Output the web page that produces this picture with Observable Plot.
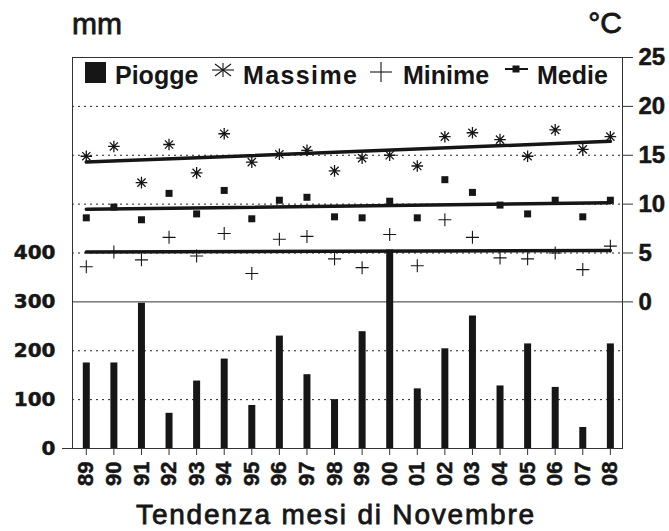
<!DOCTYPE html>
<html>
<head>
<meta charset="utf-8">
<script src="https://cdn.jsdelivr.net/npm/d3@7"></script>
<script src="https://cdn.jsdelivr.net/npm/@observablehq/plot@0.6"></script>
<style>
  html, body { margin: 0; padding: 0; background: #fff; }
  #wrap { position: relative; width: 669px; height: 531px; overflow: hidden; }
  #wrap > svg { position: absolute; left: 0; top: 0; }
  #overlay { pointer-events: none; }
  #wrap g[aria-label$="tick label"] { stroke: #161616; stroke-width: 0.5px; }
</style>
</head>
<body>
<div id="wrap"></div>
<script>
// ---- data ----
const years = [1989,1990,1991,1992,1993,1994,1995,1996,1997,1998,1999,2000,2001,2002,2003,2004,2005,2006,2007,2008];
const yearLabels = ["89","90","91","92","93","94","95","96","97","98","99","00","01","02","03","04","05","06","07","08"];
// Piogge (mm)
const piogge = [175,175,297,72,138,183,88,230,151,100,239,406,122,204,271,128,214,125,43,214];
// Temperature (°C)
const massime = [14.9,15.9,12.2,16.1,13.2,17.2,14.3,15.1,15.5,13.4,14.7,15.0,13.9,16.9,17.3,16.6,14.9,17.6,15.6,16.9];
const minime  = [3.6,5.1,4.3,6.6,4.7,7.0,2.9,6.4,6.7,4.4,3.5,6.9,3.7,8.4,6.6,4.5,4.4,5.0,3.3,5.7];
const medie   = [8.6,9.7,8.4,11.1,9.0,11.4,8.5,10.4,10.7,8.7,8.6,10.3,8.6,12.5,11.2,9.9,9.0,10.4,8.7,10.4];
// axis ticks
const mmTicks = [0,100,200,300,400];
const degTicks = [0,5,10,15,20,25];

// shared vertical axis: 0 °C sits at 300 mm, 5 °C per 100 mm
const T = t => 300 + 20 * t;
const Tinv = v => (v - 300) / 20;

const data = years.map((year, i) => ({
  year, label: yearLabels[i], rain: piogge[i],
  max: massime[i], min: minime[i], mean: medie[i]
}));

// custom symbols
const asterisk8 = {
  draw(ctx, size) {
    const r = Math.sqrt(size / Math.PI);
    const d = r * Math.SQRT1_2;
    ctx.moveTo(-r, 0); ctx.lineTo(r, 0);
    ctx.moveTo(0, -r); ctx.lineTo(0, r);
    ctx.moveTo(-d, -d); ctx.lineTo(d, d);
    ctx.moveTo(-d, d); ctx.lineTo(d, -d);
  }
};
const thinPlus = {
  draw(ctx, size) {
    const r = Math.sqrt(size / Math.PI);
    ctx.moveTo(-r, 0); ctx.lineTo(r, 0);
    ctx.moveTo(0, -r); ctx.lineTo(0, r);
  }
};

const ink = "#161616";

const chart = Plot.plot({
  width: 669,
  height: 531,
  marginLeft: 72,
  marginRight: 47,
  marginTop: 57,
  marginBottom: 83,
  x: { type: "linear", domain: [1988.5, 2008.44] },
  y: { domain: [0, 800] },
  style: { fontFamily: "'Liberation Sans', Arial, sans-serif", background: "white", color: ink },
  marks: [
    Plot.ruleY([100, 200, T(5), T(10), T(15), T(20)], { stroke: "#222", strokeWidth: 1, strokeDasharray: "2,4" }),
    Plot.ruleY([T(0)], { stroke: "#333", strokeWidth: 1 }),
    Plot.frame({ stroke: "#333", strokeWidth: 1 }),
    // rain bars
    Plot.ruleX(data, { x: "year", y1: 0, y2: "rain", stroke: ink, strokeWidth: 7 }),
    // trend lines
    Plot.linearRegressionY(data, { x: "year", y: d => T(d.max), ci: 0, stroke: ink, strokeWidth: 3.5 }),
    Plot.linearRegressionY(data, { x: "year", y: d => T(d.mean), ci: 0, stroke: ink, strokeWidth: 3.5 }),
    Plot.linearRegressionY(data, { x: "year", y: d => T(d.min), ci: 0, stroke: ink, strokeWidth: 3.5 }),
    // points
    Plot.dot(data, { x: "year", y: d => T(d.max), symbol: asterisk8, r: 5.8, fill: "none", stroke: ink, strokeWidth: 1.3 }),
    Plot.dot(data, { x: "year", y: d => T(d.min), symbol: thinPlus, r: 6.5, fill: "none", stroke: ink, strokeWidth: 1.1 }),
    Plot.dot(data, { x: "year", y: d => T(d.mean), symbol: "square", r: 3.95, fill: ink, stroke: "none" }),
    // axes
    Plot.axisY({ anchor: "left", ticks: mmTicks, tickSize: 0, tickPadding: 17, label: null,
      fontSize: 20, fontWeight: "bold", fontFamily: "'DejaVu Sans', sans-serif" }),
    Plot.axisY({ anchor: "left", ticks: [0], tickSize: 10, tickFormat: () => "", label: null, stroke: "#333" }),
    Plot.axisY({ anchor: "right", ticks: degTicks.map(T), tickSize: 10, tickPadding: 6, label: null,
      tickFormat: d => String(Tinv(d)), fontSize: 24, fontWeight: "bold", stroke: "#333" }),
    Plot.axisX({ ticks: years, tickSize: 7, tickPadding: 6, tickRotate: -90, label: null,
      tickFormat: d => yearLabels[years.indexOf(d)], fontSize: 22, fontWeight: "bold", stroke: "#333" })
  ]
});

const wrap = document.getElementById("wrap");
wrap.appendChild(chart);

// overlay: unit labels, legend, title
const ns = "http://www.w3.org/2000/svg";
const ov = d3.select(wrap).append("svg")
  .attr("id", "overlay")
  .attr("xmlns", ns)
  .attr("width", 669).attr("height", 531)
  .style("font-family", "'Liberation Sans', Arial, sans-serif")
  .style("fill", ink);

const heavy = sel => sel.attr("stroke", ink).attr("stroke-width", 0.8);
heavy(ov.append("text").attr("x", 72).attr("y", 34).attr("font-size", 30).text("mm"));
heavy(ov.append("text").attr("x", 622).attr("y", 33).attr("font-size", 30).attr("text-anchor", "end").text("°C"));
heavy(ov.append("text").attr("x", 336).attr("y", 524).attr("font-size", 28)
  .attr("letter-spacing", "1.8px").attr("text-anchor", "middle").text("Tendenza mesi di Novembre"));

// legend
const lg = ov.append("g").attr("font-size", 25).attr("font-weight", "bold");
lg.append("rect").attr("x", 85).attr("y", 62).attr("width", 21).attr("height", 21).attr("fill", ink);
lg.append("text").attr("x", 115).attr("y", 84).text("Piogge");
const ast = lg.append("g").attr("transform", "translate(223,70)").attr("stroke", ink).attr("stroke-width", 1.1);
[[-11,0,11,0],[0,-7,0,7],[-8,-6,8,6],[-8,6,8,-6]].forEach(([a,b,c,e]) =>
  ast.append("line").attr("x1", a).attr("y1", b).attr("x2", c).attr("y2", e));
lg.append("text").attr("x", 243).attr("y", 84).attr("textLength", 114).text("Massime");
const pl = lg.append("g").attr("transform", "translate(381,72)").attr("stroke", ink).attr("stroke-width", 1.1);
pl.append("line").attr("x1", -11).attr("y1", 0).attr("x2", 11).attr("y2", 0);
pl.append("line").attr("x1", 0).attr("y1", -10).attr("x2", 0).attr("y2", 10);
lg.append("text").attr("x", 403).attr("y", 84).text("Minime");
const md = lg.append("g").attr("transform", "translate(516,69)");
md.append("line").attr("x1", -11).attr("y1", 0).attr("x2", 12).attr("y2", 0).attr("stroke", ink).attr("stroke-width", 2);
md.append("rect").attr("x", -3.5).attr("y", -3.5).attr("width", 7).attr("height", 7).attr("fill", ink);
lg.append("text").attr("x", 537).attr("y", 84).text("Medie");
</script>
</body>
</html>
